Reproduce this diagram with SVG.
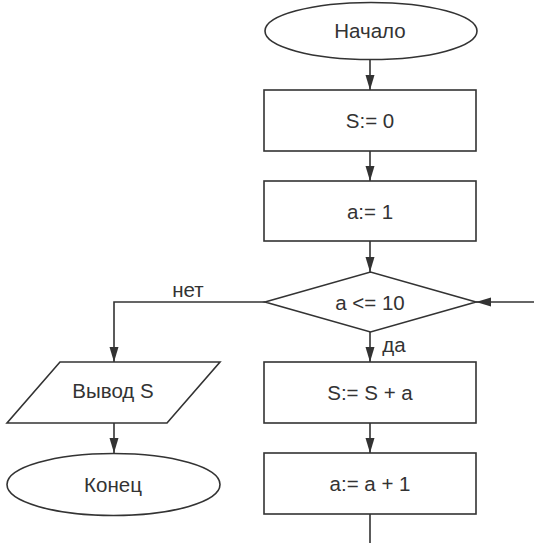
<svg xmlns="http://www.w3.org/2000/svg" width="534" height="543" viewBox="0 0 534 543">
<style>
.shape{fill:#fff;stroke:#333;stroke-width:1.6}
.conn{fill:none;stroke:#333;stroke-width:1.6}
text{font-family:"Liberation Sans",Arial,sans-serif;font-size:20.5px;fill:#333;text-anchor:middle}
</style>
<defs>
<marker id="arr" markerWidth="16" markerHeight="10" refX="15" refY="5" orient="auto" markerUnits="userSpaceOnUse">
<path d="M0,0.5 L15,5 L0,9.5 Z" fill="#333"/>
</marker>
</defs>
<rect width="534" height="543" fill="#fff"/>
<g id="connectors">
<line class="conn" x1="370" y1="59" x2="370" y2="90" marker-end="url(#arr)"/>
<line class="conn" x1="370" y1="151" x2="370" y2="181" marker-end="url(#arr)"/>
<line class="conn" x1="370" y1="241" x2="370" y2="272" marker-end="url(#arr)"/>
<line class="conn" x1="370" y1="332" x2="370" y2="362" marker-end="url(#arr)"/>
<line class="conn" x1="370" y1="423" x2="370" y2="453" marker-end="url(#arr)"/>
<line class="conn" x1="370" y1="514" x2="370" y2="543"/>
<line class="conn" x1="534" y1="302" x2="476" y2="302" marker-end="url(#arr)"/>
<polyline class="conn" points="265,302 114,302 114,362" marker-end="url(#arr)"/>
<line class="conn" x1="114" y1="423" x2="114" y2="453" marker-end="url(#arr)"/>
<text x="188" y="297">нет</text>
<text x="394" y="352">да</text>
</g>
<g id="start">
<ellipse class="shape" cx="371" cy="31" rx="106" ry="28.5"/>
<text x="370" y="38">Начало</text>
</g>
<g id="s0">
<rect class="shape" x="264" y="90" width="212" height="61"/>
<text x="370" y="128">S:= 0</text>
</g>
<g id="a1">
<rect class="shape" x="264" y="181" width="212" height="60"/>
<text x="370" y="219">a:= 1</text>
</g>
<g id="cond">
<polygon class="shape" points="265,302 370.5,272 476,302 370.5,332"/>
<text x="370" y="310">a &lt;= 10</text>
</g>
<g id="sum">
<rect class="shape" x="264" y="362" width="212" height="61"/>
<text x="370" y="400">S:= S + a</text>
</g>
<g id="inc">
<rect class="shape" x="264" y="453" width="212" height="61"/>
<text x="370" y="491">a:= a + 1</text>
</g>
<g id="output">
<polygon class="shape" points="60,362 220,362 167,423 7,423"/>
<text x="113" y="398">Вывод S</text>
</g>
<g id="end">
<ellipse class="shape" cx="113.5" cy="484.5" rx="106.5" ry="31"/>
<text x="113" y="492">Конец</text>
</g>
</svg>
